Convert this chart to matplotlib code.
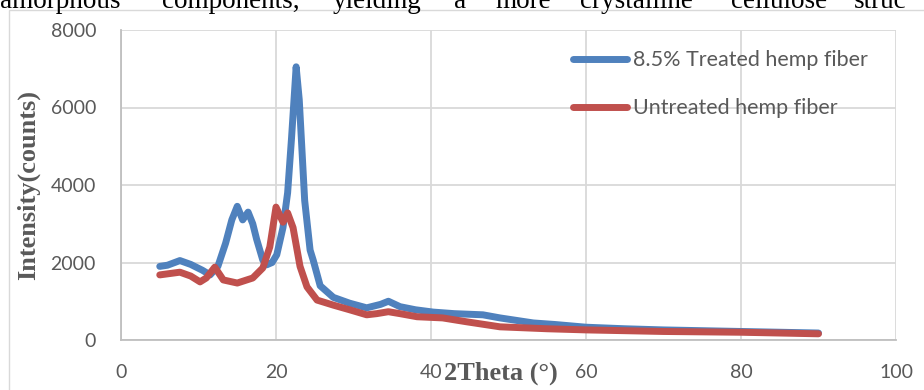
import matplotlib
matplotlib.use("Agg")
import matplotlib.pyplot as plt
from matplotlib.patches import Rectangle

# XRD patterns
treated_x = [5, 6, 7.6, 9, 10.5, 11.5, 12.5, 13.5, 14.3, 15.0, 15.7, 16.4, 17.0, 17.5,
             18.3, 18.8, 19.5, 20.1, 20.9, 21.5, 22.0, 22.6, 23.0, 23.7, 24.4, 24.8,
             25.7, 27.4, 29.5, 31.7, 33.5, 34.5, 36, 38, 40.3, 43, 46.7, 48.9, 53.2,
             56, 60, 65, 70, 75, 80, 85, 90]
treated_y = [1900, 1930, 2050, 1950, 1800, 1680, 1900, 2500, 3100, 3450, 3100, 3300,
             3000, 2600, 2060, 1940, 2000, 2200, 2900, 3800, 5200, 7050, 6200, 3600,
             2320, 2060, 1400, 1100, 950, 830, 920, 1000, 860, 780, 720, 680, 650, 570,
             440, 400, 330, 290, 260, 240, 220, 200, 180]

untreated_x = [5, 7.6, 9, 10.2, 11, 12.1, 13.2, 15.0, 17.0, 18.3, 19.2, 20.0, 20.9,
               21.5, 22.2, 23.1, 24.0, 25.3, 27.4, 29.5, 31.7, 33, 34.5, 36, 38.2,
               41.5, 44.6, 48.9, 55, 60.1, 70, 80, 90]
untreated_y = [1680, 1750, 1650, 1500, 1600, 1880, 1550, 1470, 1600, 1860, 2400, 3430,
               3040, 3280, 2900, 1900, 1370, 1030, 900, 780, 650, 680, 730, 680, 600,
               570, 470, 340, 290, 260, 220, 200, 160]

labels = ["8.5% Treated hemp fiber", "Untreated hemp fiber"]
x_ticks = [0, 20, 40, 60, 80, 100]
y_ticks = [0, 2000, 4000, 6000, 8000]

# cut-off line of body text above the chart
top_words = ["amorphous", "components,", "yielding", "a", "more", "crystalline",
             "cellulose", "struc"]
top_word_x = [0, 162, 333, 454, 495, 580, 731, 854]

W, H = 924, 390
fig = plt.figure(figsize=(W / 100, H / 100), dpi=100)

# chart frame
fig.patches.append(Rectangle((9 / W, -0.05), 1.0, 1 - 10 / H + 0.05,
                             transform=fig.transFigure, fill=False,
                             edgecolor="#D9D9D9", linewidth=1.0))

for w, px in zip(top_words, top_word_x):
    fig.text(px / W, 1 - 8 / H, w, family="Liberation Serif", fontsize=19.5,
             va="baseline", ha="left", color="black")

ax = fig.add_axes([121 / W, 50 / H, 775 / W, 310 / H])

ax.plot(treated_x, treated_y, color="#4F81BD", lw=5, solid_joinstyle="round",
        solid_capstyle="round", label=labels[0])
ax.plot(untreated_x, untreated_y, color="#C0504D", lw=5, solid_joinstyle="round",
        solid_capstyle="round", label=labels[1])

ax.set_xlim(0, 100)
ax.set_ylim(0, 8000)
ax.set_xticks(x_ticks)
ax.set_yticks(y_ticks)
ax.grid(True, color="#D9D9D9", linewidth=1.3)
ax.set_axisbelow(True)
for s in ["top", "right"]:
    ax.spines[s].set_visible(False)
for s in ["left", "bottom"]:
    ax.spines[s].set_color("#BFBFBF")
    ax.spines[s].set_linewidth(1.3)

ax.tick_params(axis="both", length=0, labelsize=14, labelcolor="#595959")
ax.tick_params(axis="x", pad=17)
ax.tick_params(axis="y", pad=18)
for t in ax.get_xticklabels() + ax.get_yticklabels():
    t.set_family("Lato")

ax.set_xlabel("2Theta (°)", family="Liberation Serif", fontweight="bold",
              fontsize=19, color="#595959")
ax.xaxis.set_label_coords(0.49, -0.07)
ax.set_ylabel("Intensity(counts)", family="Liberation Serif", fontweight="bold",
              fontsize=19, color="#595959")
ax.yaxis.set_label_coords(-0.104, 0.5)

ax.legend(loc="upper left", bbox_to_anchor=(0.583, 0.935), frameon=False,
          borderpad=0, borderaxespad=0, handlelength=2.5, handletextpad=0.3,
          labelspacing=1.3, prop={"family": "Lato", "size": 15.5},
          labelcolor="#595959")

fig.savefig("out.png", dpi=100)
